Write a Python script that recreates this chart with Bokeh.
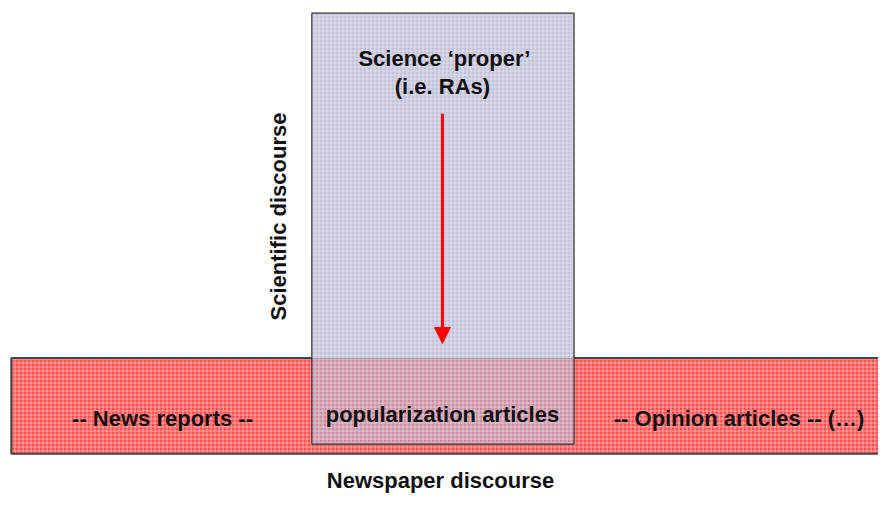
import math
from bokeh.plotting import figure
from bokeh.models import Range1d, Arrow, NormalHead, ColumnDataSource
from bokeh.core.properties import value
from bokeh.embed import file_html
from bokeh.resources import INLINE

# Diagram regions (in pixel units of the reference picture)
sci_box_x = [317, 584]        # Scientific discourse column (left, right)
sci_box_y = [13, 458]         # (top, bottom)
news_bar_x = [11, 905]        # Newspaper discourse band (left, right)
news_bar_y = [369, 468]       # (top, bottom)

arrow_x = 450
arrow_y = [117, 354]

labels = ["Science \u2018proper\u2019", "(i.e. RAs)", "popularization articles",
          "-- News reports --", "-- Opinion articles -- (\u2026)", "Newspaper discourse"]
label_x = [452, 450, 450, 165, 752, 448]
label_y = [60, 89, 427, 432, 431, 496]

side_label = "Scientific discourse"
side_x = 283
side_y = 223

FONT = value("Liberation Sans")

p = figure(width=878, height=495, output_backend="svg", toolbar_location=None,
           x_range=Range1d(0, 894), y_range=Range1d(511, 0),
           min_border=0, min_border_left=0, min_border_right=0,
           min_border_top=0, min_border_bottom=0)
p.axis.visible = False
p.grid.visible = False
p.outline_line_color = None
p.background_fill_color = "white"
p.border_fill_color = "white"

# red newspaper band
p.quad(left=[news_bar_x[0]], right=[news_bar_x[1]], top=[news_bar_y[0]], bottom=[news_bar_y[1]],
       fill_color="#ff4d4d", line_color="#444444", line_width=2,
       hatch_pattern="cross", hatch_color="#ffa8a8", hatch_scale=4, hatch_weight=1)

# scientific column, opaque part
p.quad(left=[sci_box_x[0]], right=[sci_box_x[1]], top=[sci_box_y[0]], bottom=[news_bar_y[0]],
       fill_color="#c2c3da", line_color=None,
       hatch_pattern="cross", hatch_color="#dcdce9", hatch_scale=4, hatch_weight=1)
# overlap part (semi-transparent)
p.quad(left=[sci_box_x[0]], right=[sci_box_x[1]], top=[news_bar_y[0]], bottom=[sci_box_y[1]],
       fill_color="#b4b5d0", fill_alpha=0.6, line_color=None,
       hatch_pattern="cross", hatch_color="#d8d8e6", hatch_alpha=0.45, hatch_scale=4, hatch_weight=1)
# column outline
p.quad(left=[sci_box_x[0]], right=[sci_box_x[1]], top=[sci_box_y[0]], bottom=[sci_box_y[1]],
       fill_color=None, line_color="#333333", line_width=1.2)

# arrow
p.add_layout(Arrow(x_start=arrow_x, y_start=arrow_y[0], x_end=arrow_x, y_end=arrow_y[1],
                   line_color="#ff0000", line_width=3,
                   end=NormalHead(size=16, fill_color="#ff0000", line_color="#ff0000")))

src = ColumnDataSource(dict(x=label_x, y=label_y, t=labels))
p.text(x="x", y="y", text="t", source=src, text_font=FONT, text_font_style="bold",
       text_font_size="22px", text_align="center", text_baseline="alphabetic",
       text_color="#111111")

p.text(x=[side_x], y=[side_y], text=[side_label], angle=math.pi / 2, text_font=FONT,
       text_font_style="bold", text_font_size="22px", text_align="center",
       text_baseline="middle", text_color="#111111")

open("out.html", "w").write(file_html(p, INLINE))
